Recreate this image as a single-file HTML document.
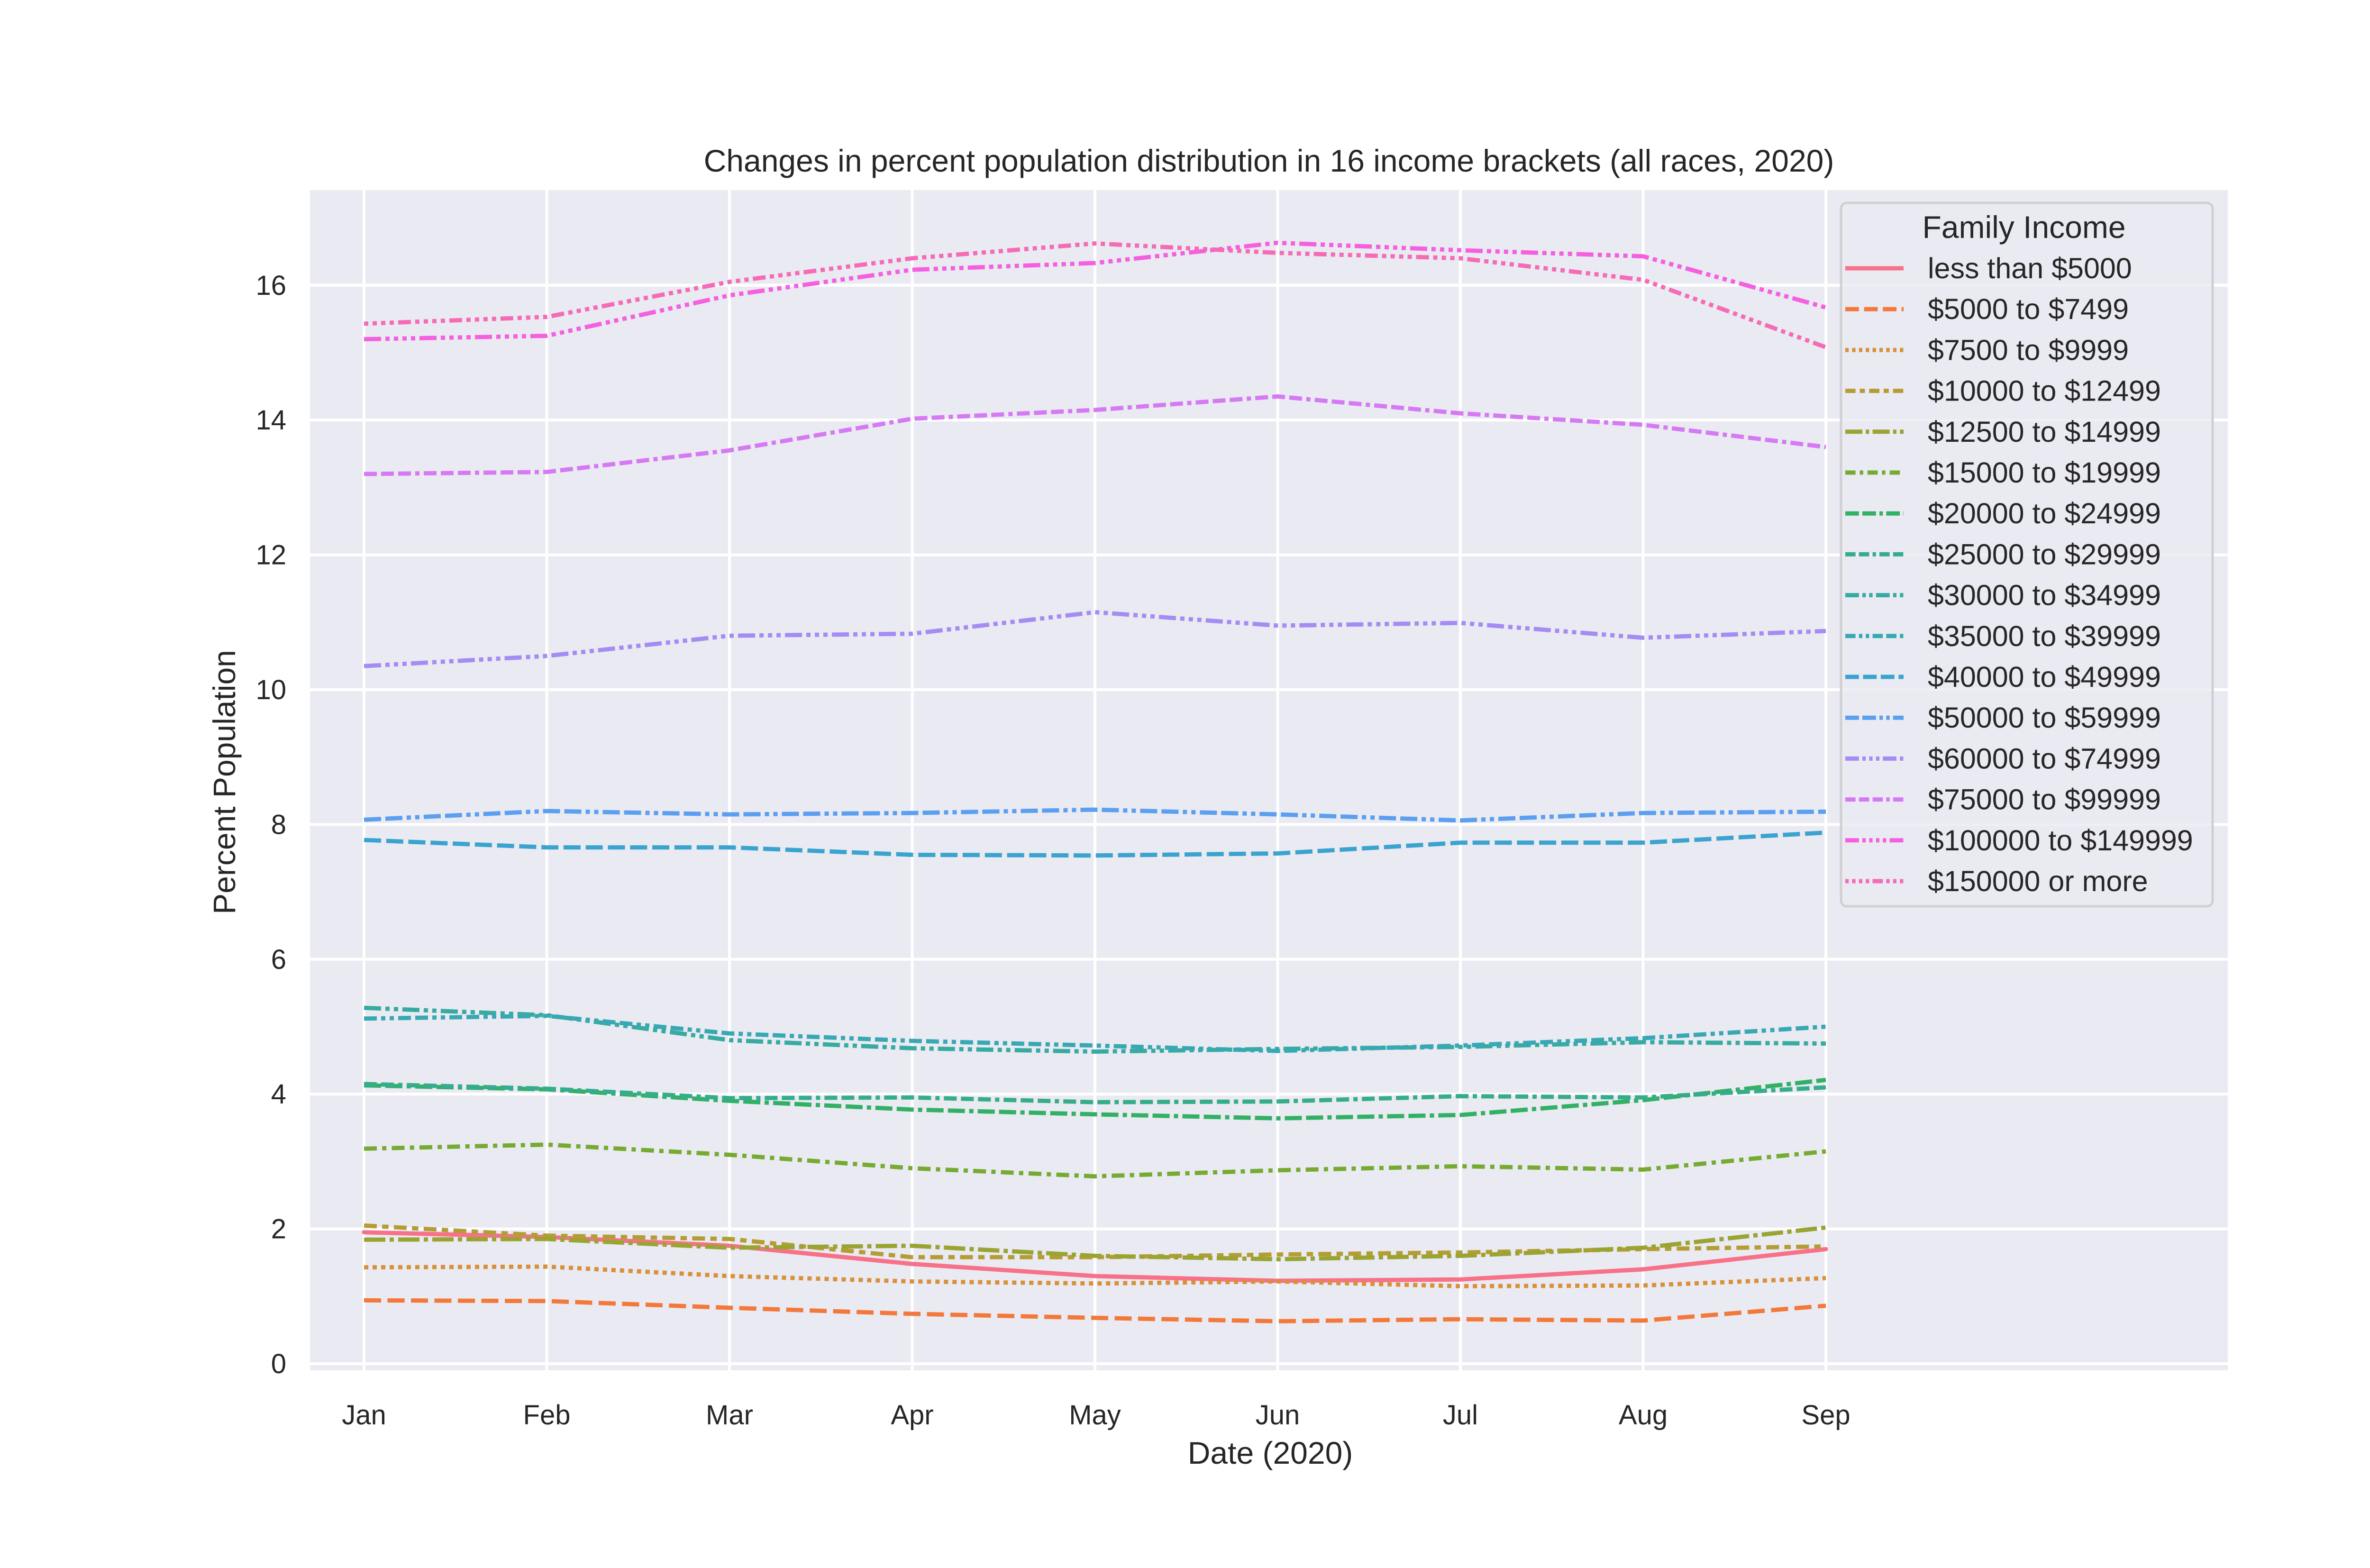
<!DOCTYPE html>
<html><head><meta charset="utf-8"><style>html,body{margin:0;padding:0;background:#fff}svg{display:block}text{font-family:"Liberation Sans",Arial,sans-serif;fill:#262626}</style></head>
<body>
<svg id="chart" width="5200" height="3308" viewBox="0 0 5200 3308" xmlns="http://www.w3.org/2000/svg">
<rect x="654" y="401" width="4046" height="2490" fill="#eaeaf2"/>
<g id="grid"></g>
<g id="series"></g>
<g id="ticks"></g>
<text x="2677" y="362" font-size="66" text-anchor="middle">Changes in percent population distribution in 16 income brackets (all races, 2020)</text>
<text x="2680" y="3088" font-size="66" text-anchor="middle">Date (2020)</text>
<text x="0" y="0" font-size="66" text-anchor="middle" transform="translate(496,1650) rotate(-90)">Percent Population</text>
<g id="legend"></g>
</svg>
<script>
const months = ["Jan","Feb","Mar","Apr","May","Jun","Jul","Aug","Sep"];
const yTicks = [0,2,4,6,8,10,12,14,16];
const seriesNames = ["less than $5000","$5000 to $7499","$7500 to $9999","$10000 to $12499","$12500 to $14999","$15000 to $19999","$20000 to $24999","$25000 to $29999","$30000 to $34999","$35000 to $39999","$40000 to $49999","$50000 to $59999","$60000 to $74999","$75000 to $99999","$100000 to $149999","$150000 or more"];
const s0 = [1.95,1.88,1.75,1.48,1.30,1.23,1.25,1.40,1.70];
const s1 = [0.94,0.93,0.83,0.74,0.68,0.63,0.66,0.64,0.86];
const s2 = [1.43,1.44,1.30,1.22,1.19,1.22,1.15,1.16,1.27];
const s3 = [2.05,1.90,1.85,1.58,1.58,1.62,1.65,1.70,1.74];
const s4 = [1.84,1.85,1.72,1.75,1.60,1.55,1.60,1.72,2.02];
const s5 = [3.19,3.25,3.10,2.90,2.78,2.87,2.93,2.88,3.15];
const s6 = [4.13,4.07,3.90,3.77,3.70,3.64,3.69,3.91,4.21];
const s7 = [4.15,4.08,3.94,3.95,3.88,3.89,3.97,3.95,4.10];
const s8 = [5.28,5.17,4.80,4.68,4.63,4.67,4.70,4.77,4.75];
const s9 = [5.12,5.16,4.90,4.79,4.72,4.64,4.72,4.83,5.00];
const s10 = [7.77,7.66,7.66,7.55,7.54,7.57,7.73,7.73,7.88];
const s11 = [8.07,8.20,8.15,8.17,8.22,8.15,8.06,8.17,8.19];
const s12 = [10.35,10.50,10.80,10.83,11.15,10.95,10.99,10.77,10.87];
const s13 = [13.20,13.23,13.55,14.02,14.15,14.35,14.10,13.93,13.60];
const s14 = [15.20,15.25,15.85,16.23,16.33,16.63,16.52,16.43,15.67];
const s15 = [15.43,15.53,16.05,16.40,16.62,16.48,16.40,16.08,15.08];
const allSeries = [s0,s1,s2,s3,s4,s5,s6,s7,s8,s9,s10,s11,s12,s13,s14,s15];

const colors = ["#f77189","#f3793b","#d8913a","#b59d35","#9aa432","#76ab31","#32b166","#35ad8d","#37aba1","#38a9b4","#3ba3cf","#5b9ff0","#a48cf4","#d57af4","#f55fe0","#f66bb6"];
const dashes = [[],[4,1.5],[1,1],[3,1.25,1.5,1.25],[5,1,1,1],[3,1.25,1,1.25],[4,1,4,1,1,1],[3,1,3,1,1,1,3,1],[4,1,1,1,1,1],[3,1,1,1,1,1,3,1],[4,1.2],[4,1,4,1,1,1,1,1],[4,1,1,1,1,1,1,1],[3,1,3,1,3,1,1,1],[4,1,1,1,1,1,1,1,1,1],[1,1,1,1,1,1,1,1,3,1]];
const LW = 9;
const NS = "http://www.w3.org/2000/svg";
function xScale(i){ return 768 + i*385.5; }
function yScale(v){ return 2877 - v*142.2; }
function mk(tag, attrs, parent){ const e=document.createElementNS(NS,tag); for(const k in attrs) e.setAttribute(k,attrs[k]); parent.appendChild(e); return e; }

const grid=document.getElementById('grid'), ticks=document.getElementById('ticks'), ser=document.getElementById('series'), leg=document.getElementById('legend');
yTicks.forEach(v=>{
  const l=mk('line',{x1:654,x2:4700,y1:yScale(v),y2:yScale(v),stroke:'#fff','stroke-width':6},grid);
  
  
  const t=mk('text',{x:604,y:yScale(v)+20,'font-size':58,'text-anchor':'end'},ticks);
  t.textContent=v;
  
  
});
months.forEach((m,i)=>{
  const l=mk('line',{x1:xScale(i),x2:xScale(i),y1:401,y2:2891,stroke:'#fff','stroke-width':6},grid);
  
  
  const t=mk('text',{x:xScale(i),y:3005,'font-size':58,'text-anchor':'middle'},ticks);
  t.textContent=m;
  
  
});
allSeries.forEach((vals,si)=>{
  const d=vals.map((v,i)=>(i?'L':'M')+xScale(i).toFixed(1)+' '+yScale(v).toFixed(1)).join(' ');
  const p=mk('path',{d:d,fill:'none',stroke:colors[si],'stroke-width':LW,'stroke-linejoin':'round'},ser);
  if(dashes[si].length) p.setAttribute('stroke-dasharray',dashes[si].map(x=>x*LW).join(' '));
  else p.setAttribute('stroke-linecap','round');
  
  
});
const box=mk('rect',{x:3884,y:428,width:784,height:1484,rx:12,fill:'#eaeaf2','fill-opacity':0.8,stroke:'#d0d0d0','stroke-width':5},leg);


const lt=mk('text',{x:4270,y:502,'font-size':66,'text-anchor':'middle'},leg);
lt.textContent='Family Income';


seriesNames.forEach((n,si)=>{
  const y=566+si*86.2;
  const l=mk('line',{x1:3893,x2:4016,y1:y,y2:y,stroke:colors[si],'stroke-width':LW},leg);
  if(dashes[si].length) l.setAttribute('stroke-dasharray',dashes[si].map(x=>x*LW*0.8).join(' '));
  
  
  const t=mk('text',{x:4067,y:y+21,'font-size':61},leg);
  t.textContent=n;
  
  
});
</script>
</body></html>
